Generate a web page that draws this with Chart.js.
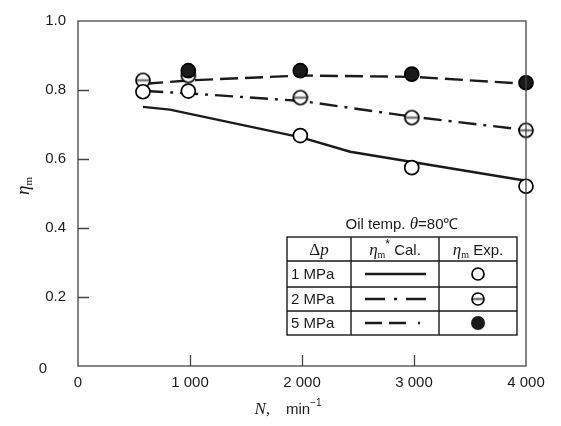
<!DOCTYPE html>
<html>
<head>
<meta charset="utf-8">
<script src="https://cdn.jsdelivr.net/npm/chart.js@4.4.1/dist/chart.umd.min.js"></script>
<style>
  body { margin: 0; background: #fff; }
  canvas { display: block; }
</style>
</head>
<body>
<canvas id="etaChart" width="561" height="426"></canvas>
<script>
// Calculated curves (eta_m* Cal.)
var calN1 = [580, 820, 2000, 2430, 4000];
var calEta1 = [0.751, 0.743, 0.662, 0.621, 0.537];
var calN2 = [600, 1000, 2000, 3000, 4000];
var calEta2 = [0.797, 0.79, 0.768, 0.722, 0.684];
var calN5 = [600, 1000, 2000, 3000, 4000];
var calEta5 = [0.818, 0.828, 0.842, 0.838, 0.818];

// Experimental points (eta_m Exp.)
var expN1 = [580, 985, 1985, 2980, 4000];
var expEta1 = [0.795, 0.797, 0.668, 0.575, 0.521];
var expN2 = [580, 985, 1985, 2980, 4000];
var expEta2 = [0.828, 0.842, 0.778, 0.72, 0.683];
var expN5 = [985, 1985, 2980, 4000];
var expEta5 = [0.856, 0.856, 0.846, 0.821];

var xTicks = [0, 1000, 2000, 3000, 4000];
var yTicks = [0, 0.2, 0.4, 0.6, 0.8, 1.0];

var INK = "#1a1a1a";
var SANS = "Arial, 'Liberation Sans', sans-serif";
var SERIF = "'Times New Roman', 'Liberation Serif', serif";

function toPoints(xs, ys) {
    return xs.map(function (x, i) { return { x: x, y: ys[i] }; });
}

// circle with a horizontal bar, used for the 2 MPa points
function makeBarCircle(r) {
    var c = document.createElement("canvas");
    var s = r * 2 + 4;
    c.width = s; c.height = s;
    var g = c.getContext("2d");
    var m = s / 2;
    g.beginPath();
    g.arc(m, m, r, 0, Math.PI * 2);
    g.fillStyle = "#fff";
    g.fill();
    g.strokeStyle = "#777";
    g.lineWidth = 2.5;
    g.beginPath();
    g.moveTo(m - r + 1, m);
    g.lineTo(m + r - 1, m);
    g.stroke();
    g.strokeStyle = "#000";
    g.lineWidth = 1.7;
    g.beginPath();
    g.arc(m, m, r, 0, Math.PI * 2);
    g.stroke();
    return c;
}
var barCircle = makeBarCircle(7);

// draw a run of text pieces with different fonts
function drawRich(ctx, parts, x, y, align) {
    var total = 0;
    parts.forEach(function (p) { ctx.font = p.f; p.w = ctx.measureText(p.t).width; total += p.w; });
    var cx = align === "center" ? x - total / 2 : x;
    ctx.textAlign = "left";
    ctx.textBaseline = "alphabetic";
    parts.forEach(function (p) {
        ctx.font = p.f;
        ctx.fillText(p.t, cx, y + (p.dy || 0));
        cx += p.w;
    });
}

var framePlugin = {
    id: "frame",
    afterDraw: function (chart) {
        var ctx = chart.ctx;
        var a = chart.chartArea;
        var xs = chart.scales.x, ys = chart.scales.y;
        ctx.save();
        // box
        ctx.strokeStyle = "#444";
        ctx.lineWidth = 1.3;
        ctx.strokeRect(a.left, a.top, a.right - a.left, a.bottom - a.top);
        // inward ticks
        ctx.beginPath();
        yTicks.slice(1, -1).forEach(function (v) {
            var py = Math.round(ys.getPixelForValue(v)) + 0.5;
            ctx.moveTo(a.left, py); ctx.lineTo(a.left + 11, py);
        });
        xTicks.slice(1, -1).forEach(function (v) {
            var px = Math.round(xs.getPixelForValue(v)) + 0.5;
            ctx.moveTo(px, a.bottom); ctx.lineTo(px, a.bottom - 11);
        });
        ctx.stroke();

        ctx.fillStyle = INK;
        // y "0" sits below the corner
        ctx.font = "15px " + SANS;
        ctx.textAlign = "center";
        ctx.textBaseline = "middle";
        ctx.fillText("0", 43, 369);

        // y title
        ctx.save();
        ctx.translate(24, 186);
        ctx.rotate(-Math.PI / 2);
        drawRich(ctx, [
            { t: "\u03b7", f: "italic 19px " + SERIF },
            { t: "m", f: "11px " + SERIF, dy: 3 }
        ], 0, 5, "center");
        ctx.restore();

        // x title
        drawRich(ctx, [
            { t: "N", f: "italic 17px " + SERIF },
            { t: ",\u2003", f: "16px " + SERIF },
            { t: "min", f: "15px " + SANS },
            { t: "\u22121", f: "10px " + SANS, dy: -8 }
        ], 288, 414, "center");

        // legend table
        var L = 287, R = 517, T = 237;
        var cols = [287, 351, 439, 517];
        var rows = [237, 261, 287, 311, 335];
        ctx.strokeStyle = INK;
        ctx.lineWidth = 1.4;
        ctx.strokeRect(L, T, R - L, rows[4] - T);
        ctx.beginPath();
        rows.slice(1, -1).forEach(function (r) { ctx.moveTo(L, r); ctx.lineTo(R, r); });
        cols.slice(1, -1).forEach(function (c) { ctx.moveTo(c, T); ctx.lineTo(c, rows[4]); });
        ctx.stroke();

        drawRich(ctx, [
            { t: "Oil temp. ", f: "15px " + SANS },
            { t: "\u03b8", f: "italic 17px " + SERIF },
            { t: "=80\u2103", f: "15px " + SANS }
        ], 402, 229, "center");

        drawRich(ctx, [
            { t: "\u0394", f: "17px " + SERIF },
            { t: "p", f: "italic 17px " + SERIF }
        ], 319, 255, "center");
        drawRich(ctx, [
            { t: "\u03b7", f: "italic 17px " + SERIF },
            { t: "m", f: "10px " + SERIF, dy: 3 },
            { t: "*", f: "12px " + SANS, dy: -7 },
            { t: " Cal.", f: "15px " + SANS }
        ], 395, 255, "center");
        drawRich(ctx, [
            { t: "\u03b7", f: "italic 17px " + SERIF },
            { t: "m", f: "10px " + SERIF, dy: 3 },
            { t: " Exp.", f: "15px " + SANS }
        ], 478, 255, "center");

        var labels = ["1 MPa", "2 MPa", "5 MPa"];
        var dashes = [[], [20, 9, 3, 9], [17, 7, 17, 12, 2, 20]];
        labels.forEach(function (lab, i) {
            var cy = (rows[i + 1] + rows[i + 2]) / 2;
            ctx.font = "15px " + SANS;
            ctx.textAlign = "left";
            ctx.textBaseline = "middle";
            ctx.fillStyle = INK;
            ctx.fillText(lab, 291, cy + 1);
            ctx.save();
            ctx.lineWidth = 2.4;
            ctx.setLineDash(dashes[i]);
            ctx.beginPath();
            ctx.moveTo(365, cy); ctx.lineTo(426, cy);
            ctx.stroke();
            ctx.restore();
        });
        // legend markers
        var mx = 478;
        var c1 = (rows[1] + rows[2]) / 2, c2 = (rows[2] + rows[3]) / 2, c3 = (rows[3] + rows[4]) / 2;
        ctx.lineWidth = 1.7;
        ctx.strokeStyle = "#000";
        ctx.beginPath(); ctx.arc(mx, c1, 6, 0, Math.PI * 2);
        ctx.fillStyle = "#fff"; ctx.fill(); ctx.stroke();
        ctx.drawImage(makeBarCircle(6), mx - 8, c2 - 8);
        ctx.beginPath(); ctx.arc(mx, c3, 7, 0, Math.PI * 2);
        ctx.fillStyle = INK; ctx.fill();
        ctx.restore();
    }
};

function calLine(xs, ys, dash) {
    return {
        type: "line",
        data: toPoints(xs, ys),
        borderColor: INK,
        borderWidth: 2.4,
        borderDash: dash,
        pointRadius: 0,
        tension: 0,
        fill: false,
        clip: false,
        order: 2
    };
}

function expPoints(xs, ys, style, bg) {
    return {
        type: "scatter",
        data: toPoints(xs, ys),
        pointStyle: style,
        pointRadius: 7,
        backgroundColor: bg,
        borderColor: "#000",
        borderWidth: 1.7,
        clip: false,
        order: 1
    };
}

var ctxEta = document.getElementById("etaChart").getContext("2d");
var etaChart = new Chart(ctxEta, {
    data: {
        datasets: [
            calLine(calN1, calEta1, []),
            calLine(calN2, calEta2, [18, 7, 3, 7]),
            calLine(calN5, calEta5, [18, 7]),
            expPoints(expN5, expEta5, "circle", INK),
            expPoints(expN1, expEta1, "circle", "#fff"),
            expPoints(expN2, expEta2, barCircle, "#fff")
        ]
    },
    options: {
        responsive: false,
        animation: false,
        layout: { padding: { top: 11, right: 35, left: 0, bottom: 0 } },
        plugins: { legend: { display: false }, tooltip: { enabled: false } },
        scales: {
            x: {
                type: "linear",
                min: 0,
                max: 4000,
                grid: { display: false, drawTicks: false },
                border: { display: false },
                afterBuildTicks: function (s) { s.ticks = xTicks.map(function (v) { return { value: v }; }); },
                afterFit: function (s) { s.height = 60; },
                ticks: {
                    padding: 8,
                    color: INK,
                    font: { family: SANS, size: 15 },
                    maxRotation: 0,
                    callback: function (v) { return v === 0 ? "0" : (v / 1000) + " 000"; }
                }
            },
            y: {
                type: "linear",
                min: 0,
                max: 1,
                grid: { display: false, drawTicks: false },
                border: { display: false },
                afterBuildTicks: function (s) { s.ticks = yTicks.map(function (v) { return { value: v }; }); },
                afterFit: function (s) { s.width = 78; },
                ticks: {
                    padding: 12,
                    color: INK,
                    font: { family: SANS, size: 15 },
                    callback: function (v) { return v === 0 ? "" : v.toFixed(1); }
                }
            }
        }
    },
    plugins: [framePlugin]
});
</script>
</body>
</html>
